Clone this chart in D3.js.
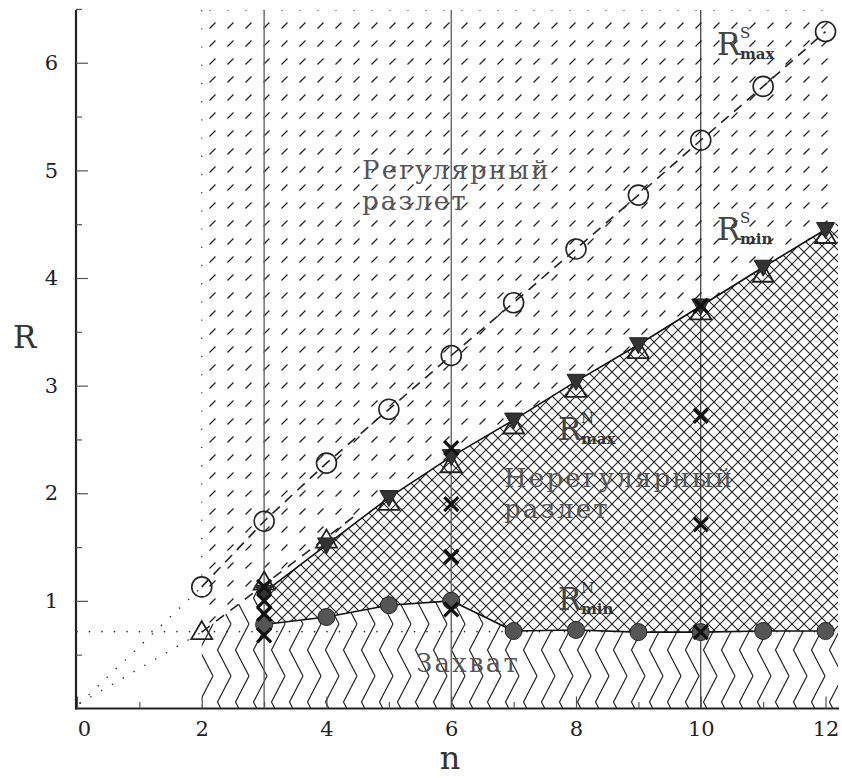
<!DOCTYPE html>
<html>
<head>
<meta charset="utf-8">
<script src="https://cdn.jsdelivr.net/npm/d3@7"></script>
<style>
  body { margin: 0; background: #fff; }
  svg text { font-family: "DejaVu Serif", serif; }
</style>
</head>
<body>
<svg id="chart"></svg>
<script>
// R_max^S (open circles)
let nS = [2, 3, 4, 5, 6, 7, 8, 9, 10, 11, 12];
let rMaxS = [1.13, 1.74, 2.28, 2.78, 3.28, 3.77, 4.27, 4.77, 5.28, 5.78, 6.29];
// R_min^S (open triangles)
let rMinS = [0.71, 1.17, 1.56, 1.91, 2.26, 2.62, 2.96, 3.32, 3.68, 4.03, 4.39];
// R_max^N (filled triangles) and R_min^N (filled circles)
let nN = [3, 4, 5, 6, 7, 8, 9, 10, 11, 12];
let rMaxN = [1.08, 1.52, 1.96, 2.34, 2.68, 3.04, 3.38, 3.74, 4.10, 4.45];
let rMinN = [0.78, 0.85, 0.96, 1.00, 0.72, 0.73, 0.71, 0.71, 0.72, 0.72];
// single runs (crosses)
let crossN = [3, 3, 3, 3, 6, 6, 6, 6, 10, 10, 10, 10];
let crossR = [0.68, 0.88, 1.00, 1.13, 0.92, 1.41, 1.90, 2.42, 0.71, 1.71, 2.72, 3.74];
// guide lines
let guideUp = [[0.05, 0.05], [2, 1.13]];
let guideLow = [[0.05, 0.05], [2, 0.71]];
let guideLowDash = [[2, 0.71], [4.5, 1.81]];
let rCapture = 0.714;
let vLines = [3, 6, 10];
let xTicks = [0, 2, 4, 6, 8, 10, 12];
let xMinor = [1, 3, 5, 7, 9, 11];
let yTicks = [1, 2, 3, 4, 5, 6];
let yMinor = [0.5, 1.5, 2.5, 3.5, 4.5, 5.5, 6.5];

let width = 842, height = 778;
let mLeft = 77, mRight = 838, mTop = 10, mBottom = 708.5;

let svg = d3.select("#chart").attr("width", width).attr("height", height);

let x = d3.scaleLinear().domain([0, 12.2]).range([mLeft, mRight]);
let y = d3.scaleLinear().domain([0, 6.49]).range([mBottom, mTop]);
let nEnd = x.domain()[1], rTop = y.domain()[1];

// patterns
let defs = svg.append("defs");
let pSlash = defs.append("pattern").attr("id", "slash")
  .attr("patternUnits", "userSpaceOnUse").attr("width", 18).attr("height", 18);
pSlash.append("path").attr("d", "M11.5,10.5 L17.5,4.5")
  .attr("stroke", "#222").attr("stroke-width", 1.2);

let pCross = defs.append("pattern").attr("id", "cross")
  .attr("patternUnits", "userSpaceOnUse").attr("width", 12).attr("height", 12);
pCross.append("path").attr("d", "M0,0 L12,12 M12,0 L0,12")
  .attr("stroke", "#222").attr("stroke-width", 1.1);

let pZig = defs.append("pattern").attr("id", "zig")
  .attr("patternUnits", "userSpaceOnUse").attr("width", 18).attr("height", 52);
pZig.append("path").attr("d", "M15,0 L1.5,26 L15,52")
  .attr("fill", "none").attr("stroke", "#222").attr("stroke-width", 1.2);

function extend(ns, rs) {
  let k = ns.length - 1;
  let slope = (rs[k] - rs[k - 1]) / (ns[k] - ns[k - 1]);
  return rs[k] + slope * (nEnd - ns[k]);
}
function lineAt(seg, n) {
  let s = (seg[1][1] - seg[0][1]) / (seg[1][0] - seg[0][0]);
  return seg[0][1] + s * (n - seg[0][0]);
}

let area = d3.line().x(d => x(d[0])).y(d => y(d[1]));

// regular region
let slashPoly = [[2, 0], [2, rTop], [nEnd, rTop], [nEnd, 0]];
// irregular region
let crossPoly = nN.map((n, i) => [n, rMaxN[i]]);
crossPoly.push([nEnd, extend(nN, rMaxN)]);
crossPoly.push([nEnd, extend(nN, rMinN)]);
for (let i = nN.length - 1; i >= 0; i--) crossPoly.push([nN[i], rMinN[i]]);
// capture region
let zigPoly = [[2, 0], [2, guideLowDash[0][1]], [3, lineAt(guideLowDash, 3)]];
nN.forEach((n, i) => zigPoly.push([n, rMinN[i]]));
zigPoly.push([nEnd, extend(nN, rMinN)]);
zigPoly.push([nEnd, 0]);

[[slashPoly, "slash"], [crossPoly, "cross"], [zigPoly, "zig"]].forEach(p => {
  svg.append("path").attr("d", area(p[0]) + "Z").attr("fill", "#fff");
  svg.append("path").attr("d", area(p[0]) + "Z").attr("fill", `url(#${p[1]})`);
});

// vertical lines
svg.selectAll(".vline").data(vLines).enter().append("line")
  .attr("x1", d => x(d)).attr("x2", d => x(d))
  .attr("y1", y(0)).attr("y2", y(rTop))
  .attr("stroke", d => d === 10 ? "#111" : "#666")
  .attr("stroke-width", d => d === 10 ? 1 : 1.4);

// dotted guides
svg.append("line")
  .attr("x1", x(0)).attr("x2", x(nEnd))
  .attr("y1", y(rCapture)).attr("y2", y(rCapture))
  .attr("stroke", "#222").attr("stroke-width", 1.6)
  .attr("stroke-linecap", "round").attr("stroke-dasharray", "0,12.5");
svg.append("line")
  .attr("x1", x(2)).attr("x2", x(2))
  .attr("y1", y(rMaxS[0]) - 12).attr("y2", y(rTop))
  .attr("stroke", "#222").attr("stroke-width", 1.4)
  .attr("stroke-linecap", "round").attr("stroke-dasharray", "0,18.2");
[guideUp, guideLow].forEach(g => {
  svg.append("path").attr("d", area(g)).attr("fill", "none")
    .attr("stroke", "#222").attr("stroke-width", 1.6)
    .attr("stroke-linecap", "round").attr("stroke-dasharray", "0,12.5");
});
svg.append("path").attr("d", area(guideLowDash)).attr("fill", "none")
  .attr("stroke", "#222").attr("stroke-width", 1.6).attr("stroke-dasharray", "10,8");

// R_max^S dashed line
svg.append("path").attr("d", area(nS.map((n, i) => [n, rMaxS[i]])))
  .attr("fill", "none").attr("stroke", "#222").attr("stroke-width", 1.6)
  .attr("stroke-dasharray", "10,7");

// solid lines
svg.append("path").attr("d", area(nN.map((n, i) => [n, rMaxN[i]])))
  .attr("fill", "none").attr("stroke", "#111").attr("stroke-width", 1.6);
svg.append("path").attr("d", area(nN.map((n, i) => [n, rMinN[i]])))
  .attr("fill", "none").attr("stroke", "#111").attr("stroke-width", 1.6);

// markers
svg.selectAll(".ocirc").data(nS).enter().append("circle")
  .attr("cx", d => x(d)).attr("cy", (d, i) => y(rMaxS[i])).attr("r", 10)
  .attr("fill", "none").attr("stroke", "#222").attr("stroke-width", 1.6);

svg.selectAll(".otri").data(nS).enter().append("path")
  .attr("transform", (d, i) => `translate(${x(d)},${y(rMinS[i])})`)
  .attr("d", "M0,-11 L10.5,7 L-10.5,7 Z")
  .attr("fill", "none").attr("stroke", "#222").attr("stroke-width", 1.8);

svg.selectAll(".ftri").data(nN).enter().append("path")
  .attr("transform", (d, i) => `translate(${x(d)},${y(rMaxN[i])})`)
  .attr("d", "M-9,-7 L9,-7 L0,9 Z")
  .attr("fill", "#333").attr("stroke", "#222").attr("stroke-width", 1);

svg.selectAll(".fcirc").data(nN).enter().append("circle")
  .attr("cx", d => x(d)).attr("cy", (d, i) => y(rMinN[i])).attr("r", 8.5)
  .attr("fill", "#555").attr("stroke", "#222").attr("stroke-width", 1);

svg.selectAll(".cross").data(crossN).enter().append("path")
  .attr("transform", (d, i) => `translate(${x(d)},${y(crossR[i])})`)
  .attr("d", "M-7,-7 L7,7 M7,-7 L-7,7")
  .attr("stroke", "#111").attr("stroke-width", 3.2);

// axes
let axX = svg.append("g").attr("transform", `translate(0,${mBottom})`)
  .call(d3.axisBottom(x).tickValues(xTicks).tickSize(-12).tickSizeOuter(0)
    .tickPadding(13).tickFormat(d3.format("d")));
svg.append("g").attr("transform", `translate(0,${mBottom})`)
  .call(d3.axisBottom(x).tickValues(xMinor).tickSize(-6.5).tickSizeOuter(0).tickFormat(""))
  .select(".domain").remove();
let axY = svg.append("g").attr("transform", `translate(${mLeft - 1},0)`)
  .call(d3.axisLeft(y).tickValues(yTicks).tickSize(-12).tickSizeOuter(0)
    .tickPadding(18).tickFormat(d3.format("d")));
svg.append("g").attr("transform", `translate(${mLeft - 1},0)`)
  .call(d3.axisLeft(y).tickValues(yMinor).tickSize(-6).tickSizeOuter(0).tickFormat(""))
  .select(".domain").remove();

svg.selectAll(".tick line").attr("stroke", "#555").attr("stroke-width", 1.2);
axX.select(".domain").attr("stroke", "#222").attr("stroke-width", 2.2)
  .attr("d", `M${mLeft - 2},0H${mRight + 1}`);
axY.select(".domain").attr("stroke", "#222").attr("stroke-width", 2.2)
  .attr("d", `M0,${mBottom + 1}V${mTop}`);
svg.selectAll(".tick text").attr("font-family", "DejaVu Serif")
  .attr("font-size", 21).attr("fill", "#222");
axX.selectAll(".tick text").filter(d => d === 0).attr("x", 7);

svg.append("text").attr("x", 13).attr("y", 348)
  .attr("font-size", 31).attr("fill", "#333").text("R");
svg.append("text").attr("x", 450).attr("y", 769).attr("text-anchor", "middle")
  .attr("font-size", 32).attr("fill", "#333").text("n");

// region names
function label(lines, px, py, step) {
  let t = svg.append("text").attr("font-size", 26).attr("fill", "#555")
    .attr("letter-spacing", 2.2);
  lines.forEach((s, i) => t.append("tspan").attr("x", px).attr("y", py + i * step).text(s));
}
label(["Регулярный", "разлет"], 362, 179, 31);
label(["Нерегулярный", "разлет"], 504, 487, 31);
label(["Захват"], 416, 672, 0);

// R labels with super/subscript
function rLabel(sup, sub, px, py) {
  let t = svg.append("text").attr("x", px).attr("y", py).attr("fill", "#444");
  t.append("tspan").attr("font-size", 31).text("R");
  t.append("tspan").attr("x", px + 23).attr("y", py - 17)
    .attr("font-size", 15).attr("fill", "#333").text(sup);
  t.append("tspan").attr("x", px + 23).attr("y", py + 4)
    .attr("font-size", 15).attr("font-weight", "bold").attr("fill", "#333").text(sub);
}
rLabel("S", "max", 717, 55);
rLabel("S", "min", 717, 240);
rLabel("N", "max", 558, 440);
rLabel("N", "min", 558, 610);
</script>
</body>
</html>
